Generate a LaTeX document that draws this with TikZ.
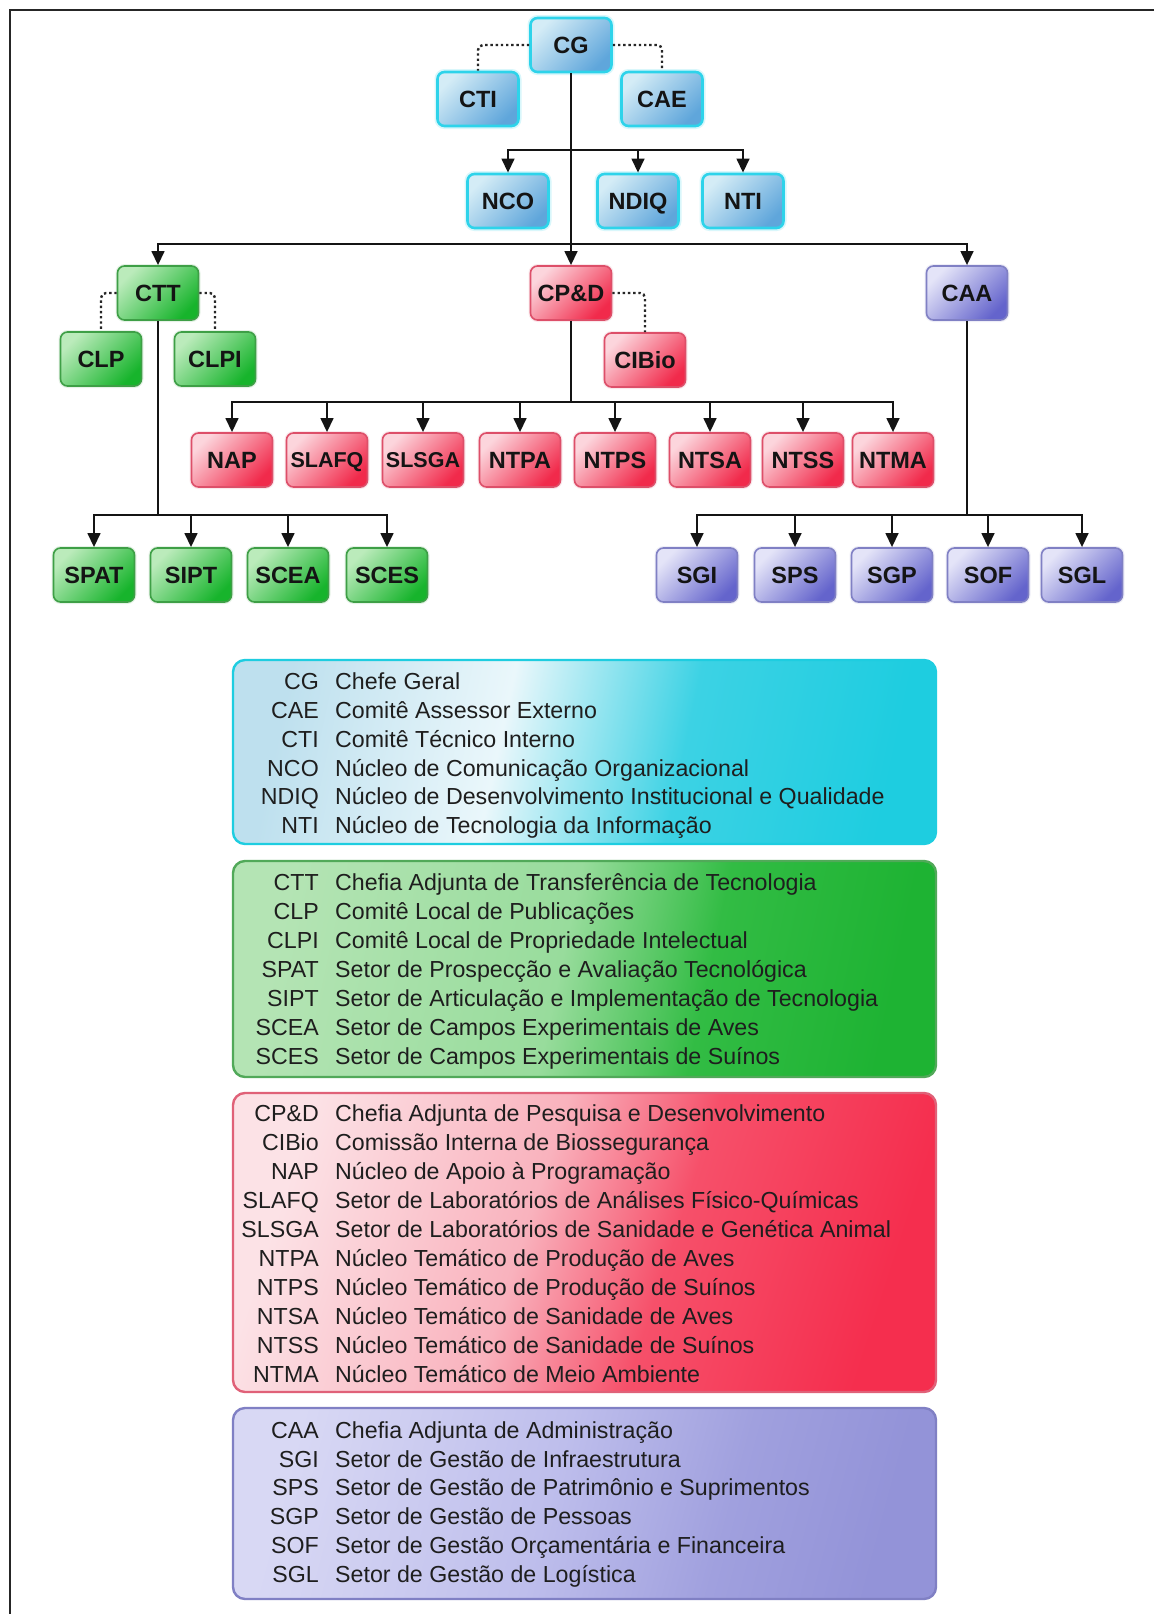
\documentclass[tikz,border=0pt]{standalone}
\usepackage{fontspec}
\setmainfont{Liberation Sans}
\usetikzlibrary{arrows.meta}

% box colours: border, light corner, dark corner
\definecolor{cyB}{HTML}{2ED3EA}
\definecolor{cyL}{HTML}{D4ECF6}
\definecolor{cyD}{HTML}{5FA6DB}
\definecolor{grB}{HTML}{3E9F46}
\definecolor{grL}{HTML}{BBEBBB}
\definecolor{grD}{HTML}{17B42C}
\definecolor{rdB}{HTML}{DD4F69}
\definecolor{rdL}{HTML}{FCD5DC}
\definecolor{rdD}{HTML}{F12A4B}
\definecolor{puB}{HTML}{8080C4}
\definecolor{puL}{HTML}{E4E4F8}
\definecolor{puD}{HTML}{6464CC}
\definecolor{txt}{HTML}{1E1E1E}

% legend panel colours
\definecolor{lcA}{HTML}{BEE0EE}
\definecolor{lcB}{HTML}{EAF7FB}
\definecolor{lcC}{HTML}{3CD2E4}
\definecolor{lcD}{HTML}{1ECDE0}
\definecolor{lgA}{HTML}{B4E4B4}
\definecolor{lgB}{HTML}{98DC9C}
\definecolor{lgC}{HTML}{32BC44}
\definecolor{lgD}{HTML}{1EB333}
\definecolor{lrA}{HTML}{FCE2E6}
\definecolor{lrB}{HTML}{F9B2BD}
\definecolor{lrC}{HTML}{F6506A}
\definecolor{lrD}{HTML}{F52E4E}
\definecolor{lpA}{HTML}{D8D8F4}
\definecolor{lpB}{HTML}{BEBEEC}
\definecolor{lpC}{HTML}{A0A0DE}
\definecolor{lpD}{HTML}{9393D8}

\pgfdeclarehorizontalshading{legcyan}{100bp}{color(0bp)=(lcA); color(25bp)=(lcA); color(43bp)=(lcB); color(58bp)=(lcC); color(75bp)=(lcD); color(100bp)=(lcD)}
\pgfdeclarehorizontalshading{leggreen}{100bp}{color(0bp)=(lgA); color(25bp)=(lgA); color(48bp)=(lgB); color(60bp)=(lgC); color(75bp)=(lgD); color(100bp)=(lgD)}
\pgfdeclarehorizontalshading{legred}{100bp}{color(0bp)=(lrA); color(25bp)=(lrA); color(45bp)=(lrB); color(57bp)=(lrC); color(75bp)=(lrD); color(100bp)=(lrD)}
\pgfdeclarehorizontalshading{legpurple}{100bp}{color(0bp)=(lpA); color(25bp)=(lpA); color(47bp)=(lpB); color(62bp)=(lpC); color(75bp)=(lpD); color(100bp)=(lpD)}

\tikzset{
  unit/.style={rounded corners=7pt, minimum width=81pt, minimum height=54pt,
    inner sep=0pt, text height=16.8pt, text depth=0pt,
    font=\fontsize{23.5}{26}\selectfont\bfseries, text=black!92},
  cyanbox/.style={unit, draw=cyB, line width=2.6pt, top color=cyL, bottom color=cyD,
    shading angle=45, preaction={draw=cyB!60, line width=6pt, opacity=0.3}},
  greenbox/.style={unit, draw=grB, line width=1.6pt, top color=grL, bottom color=grD,
    shading angle=45, preaction={draw=grB!50, line width=4pt, opacity=0.25}},
  redbox/.style={unit, draw=rdB, line width=1.6pt, top color=rdL, bottom color=rdD,
    shading angle=45, preaction={draw=rdB!50, line width=4pt, opacity=0.25}},
  purplebox/.style={unit, draw=puB, line width=1.6pt, top color=puL, bottom color=puD,
    shading angle=45, preaction={draw=puB!50, line width=4pt, opacity=0.25}},
  tight/.style={font=\fontsize{21.5}{24}\selectfont\bfseries, text height=15.4pt},
  conn/.style={line width=2.6pt, draw=black!92},
  arr/.style={conn, -{Triangle[length=14pt,width=12.5pt]}},
  dots/.style={line width=2.4pt, draw=black!85, dash pattern=on 2.4pt off 2.8pt, rounded corners=5pt},
  panel/.style={rounded corners=12pt, line width=2.4pt},
  legabbr/.style={anchor=base east, inner sep=0pt, text=txt,
    font=\fontsize{23.2}{26}\selectfont},
  legdesc/.style={anchor=base west, inner sep=0pt, text=txt,
    font=\fontsize{23.2}{26}\selectfont},
}

% one legend line: name, baseline, abbreviation, meaning
\newcommand{\legrow}[4]{%
  \node[legabbr] (#1-a) at (319,#2) {#3};
  \node[legdesc] (#1-d) at (335,#2) {#4};}

\begin{document}
\begin{tikzpicture}[x=1pt, y=-1pt]
\useasboundingbox (0,0) rectangle (1154,1614);
\fill[white] (0,0) rectangle (1154,1614);

% frame
\draw[line width=2pt, black!85] (1154,10) -- (10,10) -- (10,1614);

% ---- general management ----
\node[cyanbox] (CG)   at (571,45)  {CG};
\node[cyanbox] (CTI)  at (478,99)  {CTI};
\node[cyanbox] (CAE)  at (662,99)  {CAE};
\node[cyanbox] (NCO)  at (508,201) {NCO};
\node[cyanbox] (NDIQ) at (638,201) {NDIQ};
\node[cyanbox] (NTI)  at (743,201) {NTI};

% ---- technology transfer ----
\node[greenbox] (CTT)  at (158,293) {CTT};
\node[greenbox] (CLP)  at (101,359) {CLP};
\node[greenbox] (CLPI) at (215,359) {CLPI};
\node[greenbox] (SPAT) at (94,575)  {SPAT};
\node[greenbox] (SIPT) at (191,575) {SIPT};
\node[greenbox] (SCEA) at (288,575) {SCEA};
\node[greenbox] (SCES) at (387,575) {SCES};

% ---- research and development ----
\node[redbox] (CPD)   at (571,293) {CP\&D};
\node[redbox] (CIBio) at (645,360) {CIBio};
\node[redbox] (NAP)   at (232,460) {NAP};
\node[redbox, tight] (SLAFQ) at (327,460) {SLAFQ};
\node[redbox, tight] (SLSGA) at (423,460) {SLSGA};
\node[redbox] (NTPA)  at (520,460) {NTPA};
\node[redbox] (NTPS)  at (615,460) {NTPS};
\node[redbox] (NTSA)  at (710,460) {NTSA};
\node[redbox] (NTSS)  at (803,460) {NTSS};
\node[redbox] (NTMA)  at (893,460) {NTMA};

% ---- administration ----
\node[purplebox] (CAA) at (967,293)  {CAA};
\node[purplebox] (SGI) at (697,575)  {SGI};
\node[purplebox] (SPS) at (795,575)  {SPS};
\node[purplebox] (SGP) at (892,575)  {SGP};
\node[purplebox] (SOF) at (988,575)  {SOF};
\node[purplebox] (SGL) at (1082,575) {SGL};

% advisory links
\draw[dots] (CG.west) -| (CTI.north);
\draw[dots] (CG.east) -| (CAE.north);
\draw[dots] (CTT.west) -| (CLP.north);
\draw[dots] (CTT.east) -| (CLPI.north);
\draw[dots] (CPD.east) -| (CIBio.north);

% hierarchy
\coordinate (j1) at (571,150);
\coordinate (j2) at (571,244);
\coordinate (j3) at (158,515);
\coordinate (j4) at (571,402);
\coordinate (j5) at (967,515);

\draw[arr] (CG.south) -- (CPD.north);
\draw[arr] (j1) -| (NCO.north);
\draw[arr] (j1) -| (NTI.north);
\draw[arr] (NDIQ.north |- j1) -- (NDIQ.north);

\draw[arr] (j2) -| (CTT.north);
\draw[arr] (j2) -| (CAA.north);

\draw[conn] (CTT.south) -- (j3);
\draw[arr] (j3) -| (SPAT.north);
\draw[arr] (j3) -| (SCES.north);
\draw[arr] (SIPT.north |- j3) -- (SIPT.north);
\draw[arr] (SCEA.north |- j3) -- (SCEA.north);

\draw[conn] (CPD.south) -- (j4);
\draw[arr] (j4) -| (NAP.north);
\draw[arr] (j4) -| (NTMA.north);
\foreach \n in {SLAFQ,SLSGA,NTPA,NTPS,NTSA,NTSS}
  \draw[arr] (\n.north |- j4) -- (\n.north);

\draw[conn] (CAA.south) -- (j5);
\draw[arr] (j5) -| (SGI.north);
\draw[arr] (j5) -| (SGL.north);
\foreach \n in {SPS,SGP,SOF}
  \draw[arr] (\n.north |- j5) -- (\n.north);

% ---- legend panels ----
\draw[panel, draw=lcD, shading=legcyan, shading angle=-12] (233,660) rectangle (936,844);
\draw[panel, draw=grB!90, shading=leggreen, shading angle=-12] (233,861) rectangle (936,1077);
\draw[panel, draw=rdB!90, shading=legred, shading angle=-18] (233,1093) rectangle (936,1392);
\draw[panel, draw=puB, shading=legpurple, shading angle=-15] (233,1408) rectangle (936,1599);

\legrow{c1}{689.3}{CG}{Chefe Geral}
\legrow{c2}{718.2}{CAE}{Comitê Assessor Externo}
\legrow{c3}{747.1}{CTI}{Comitê Técnico Interno}
\legrow{c4}{776.0}{NCO}{Núcleo de Comunicação Organizacional}
\legrow{c5}{804.9}{NDIQ}{Núcleo de Desenvolvimento Institucional e Qualidade}
\legrow{c6}{833.8}{NTI}{Núcleo de Tecnologia da Informação}

\legrow{g1}{890.3}{CTT}{Chefia Adjunta de Transferência de Tecnologia}
\legrow{g2}{919.3}{CLP}{Comitê Local de Publicações}
\legrow{g3}{948.3}{CLPI}{Comitê Local de Propriedade Intelectual}
\legrow{g4}{977.3}{SPAT}{Setor de Prospecção e Avaliação Tecnológica}
\legrow{g5}{1006.3}{SIPT}{Setor de Articulação e Implementação de Tecnologia}
\legrow{g6}{1035.3}{SCEA}{Setor de Campos Experimentais de Aves}
\legrow{g7}{1064.3}{SCES}{Setor de Campos Experimentais de Suínos}

\legrow{r1}{1121.3}{CP\&D}{Chefia Adjunta de Pesquisa e Desenvolvimento}
\legrow{r2}{1150.3}{CIBio}{Comissão Interna de Biossegurança}
\legrow{r3}{1179.3}{NAP}{Núcleo de Apoio à Programação}
\legrow{r4}{1208.3}{SLAFQ}{Setor de Laboratórios de Análises Físico-Químicas}
\legrow{r5}{1237.3}{SLSGA}{Setor de Laboratórios de Sanidade e Genética Animal}
\legrow{r6}{1266.3}{NTPA}{Núcleo Temático de Produção de Aves}
\legrow{r7}{1295.3}{NTPS}{Núcleo Temático de Produção de Suínos}
\legrow{r8}{1324.3}{NTSA}{Núcleo Temático de Sanidade de Aves}
\legrow{r9}{1353.3}{NTSS}{Núcleo Temático de Sanidade de Suínos}
\legrow{r10}{1382.3}{NTMA}{Núcleo Temático de Meio Ambiente}

\legrow{p1}{1438.3}{CAA}{Chefia Adjunta de Administração}
\legrow{p2}{1467.1}{SGI}{Setor de Gestão de Infraestrutura}
\legrow{p3}{1495.9}{SPS}{Setor de Gestão de Patrimônio e Suprimentos}
\legrow{p4}{1524.7}{SGP}{Setor de Gestão de Pessoas}
\legrow{p5}{1553.5}{SOF}{Setor de Gestão Orçamentária e Financeira}
\legrow{p6}{1582.3}{SGL}{Setor de Gestão de Logística}
\end{tikzpicture}
\end{document}
